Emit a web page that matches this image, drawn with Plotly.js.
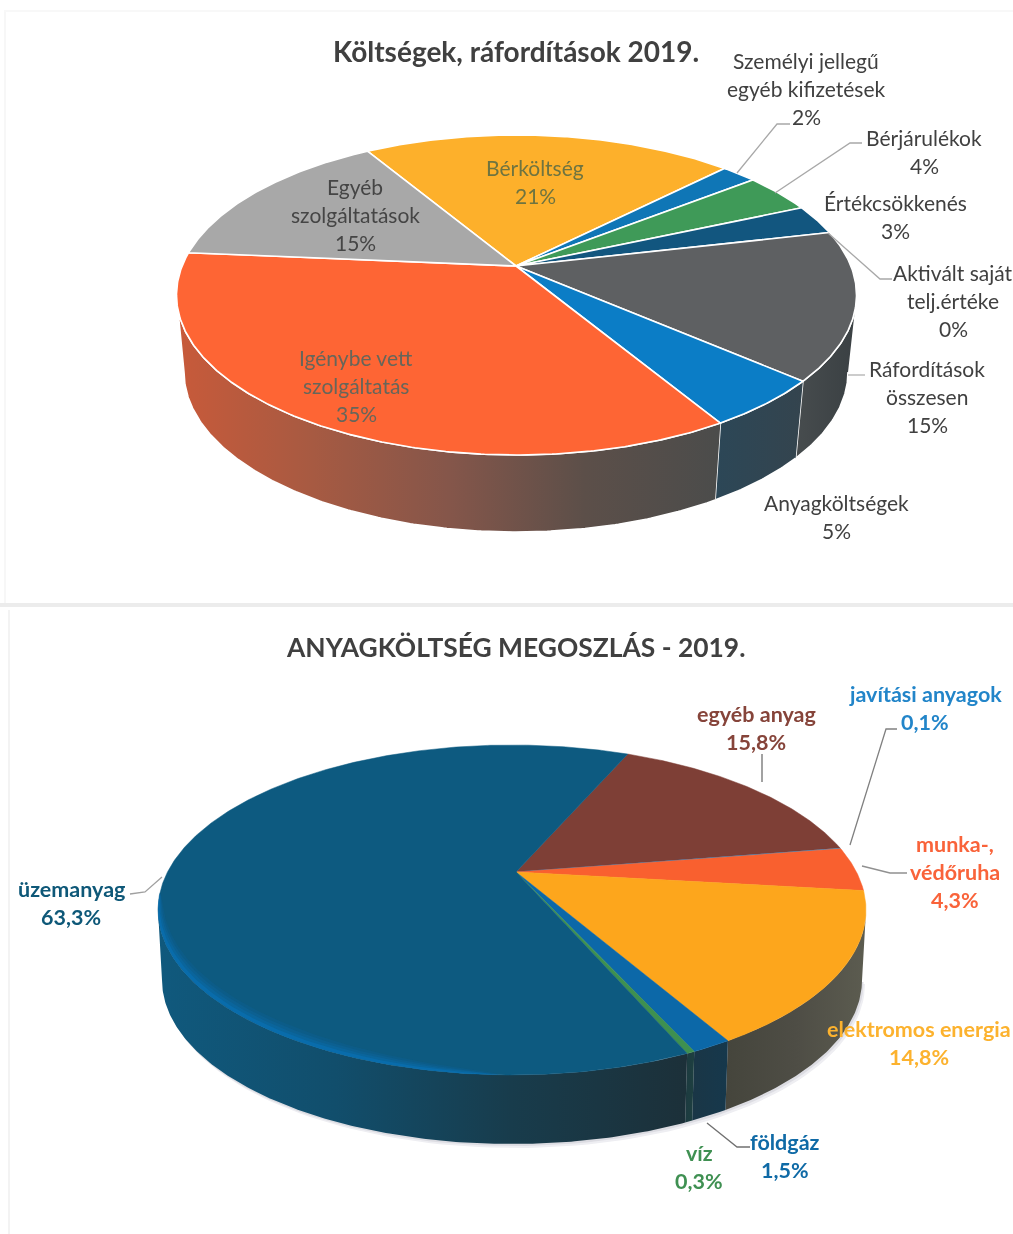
<!DOCTYPE html>
<html>
<head>
<meta charset="utf-8">
<script src="https://cdn.plot.ly/plotly-3.0.1.min.js"></script>
<style>html,body{margin:0;padding:0;background:#fff;overflow:hidden}#chart{filter:blur(0.4px)}</style>
</head>
<body>
<div id="chart" style="width:1013px;height:1234px"></div>
<script>
// ---- data ----
const costTitle = "Költségek, ráfordítások 2019.";
const costCategories = ["Bérköltség","Személyi jellegű\negyéb kifizetések","Bérjárulékok","Értékcsökkenés","Aktivált saját\ntelj.értéke","Ráfordítások\nösszesen","Anyagköltségek","Igénybe vett\nszolgáltatás","Egyéb\nszolgáltatások"];
const costValues = [21,2,4,3,0,15,5,35,15];
const costPercentLabels = ["21%","2%","4%","3%","0%","15%","5%","35%","15%"];
const costColors = ["#FDB02B","#0F76B6","#3F9A58","#12567F","#8A8A8A","#5E6062","#0B7DC6","#FE6534","#A8A8A8"];
const costLabelColors = ["#6F7440","#404040","#404040","#404040","#404040","#404040","#404040","#66665A","#454545"];

const materialTitle = "ANYAGKÖLTSÉG MEGOSZLÁS - 2019.";
const materialCategories = ["egyéb anyag","javítási anyagok","munka-,\nvédőruha","elektromos energia","földgáz","víz","üzemanyag"];
const materialValues = [15.8,0.1,4.3,14.8,1.5,0.3,63.3];
const materialPercentLabels = ["15,8%","0,1%","4,3%","14,8%","1,5%","0,3%","63,3%"];
const materialColors = ["#7E3F36","#1C7FC4","#F9602F","#FDA61C","#0C68A8","#3E9050","#0D5A80"];
const materialLabelColors = ["#86443A","#2285C9","#F9633A","#FCB22E","#0F6AA6","#3F9052","#0E5878"];

// ---- geometry and style (not data) ----
const costLabelPos = [[535,167],[806,60],[924,137],[895,202],[953,272],[927,368],[836,502],[356,357],[355,186]];
const materialLabelPos = [[756,714],[925,694],[955,844],[919,1029],[785,1142],[699,1153],[71,889]];

const costPie = {ax:516, ay:266, cx:516.5, rx:340, top:135, bottom:455, start:-31,
  low:{cx:516, cy:372, rx:332, ry:160}, sep:1.6};
const materialPie = {ax:516, ay:872, cx:512, rx:354, top:745, bottom:1075, start:24,
  low:{cx:512, cy:980, rx:350, ry:164}, sep:0};

const costWallScales = {
  5:["#474c4e","#3a4043"], 6:["#2c4757","#34444e"], 7:["#c85a3a","#a75a42","#85564a","#5c4f49","#4b4c4b"]
};
const materialWallScales = {
  3:["#45453c","#4e4d45","#5c5c50"], 4:["#1a3646","#16384c"], 5:["#1c3a40","#1e4040"], 6:["#10597d","#114e6c","#183c4c","#1c3039"]
};

function project(p, deg){
  const a = p.ay - p.top, b = p.bottom - p.ay;
  const k = (b-a)/(b+a), A = 2*a*b/(a+b), B = p.rx*Math.sqrt(1-k*k);
  const t = deg*Math.PI/180, u = Math.sin(t), v = -Math.cos(t);
  const d = 1-k*v;
  const X = B*u/d, Y = A*v/d;
  const y0 = (b-a)/2, ry = (a+b)/2;
  const phi = Math.atan2((Y-y0)/ry, X/p.rx);
  return {x:p.cx+X, y:p.ay+Y, phi};
}
function lowPoint(p, phi){
  return {x:p.low.cx+p.low.rx*Math.cos(phi), y:p.low.cy+p.low.ry*Math.sin(phi)};
}
function ellipsePoint(cx,cy,rx,ry,phi){return {x:cx+rx*Math.cos(phi), y:cy+ry*Math.sin(phi)};}

function gradient(colors){
  return {type:"horizontal", colorscale:colors.map((c,i)=>[colors.length>1?i/(colors.length-1):0,c])};
}

function pieTraces(p, names, values, colors, wallScales){
  const total = values.reduce((s,v)=>s+v,0);
  const walls = [], faces = [];
  let from = p.start;
  values.forEach((val,i)=>{
    const to = from + val/total*360;
    if(val>0){
      const fx=[p.ax], fy=[p.ay], tx=[], ty=[], bx=[], by=[];
      const n = Math.max(2, Math.ceil((to-from)/0.5));
      for(let j=0;j<=n;j++){
        const q = project(p, from+(to-from)*j/n);
        fx.push(q.x); fy.push(q.y);
        if(Math.sin(q.phi)>=-0.001){
          const l = lowPoint(p,q.phi);
          tx.push(q.x); ty.push(q.y); bx.push(l.x); by.push(l.y);
        }
      }
      fx.push(p.ax); fy.push(p.ay);
      const label = names[i].replace("\n"," ");
      if(tx.length>1 && wallScales[i]){
        walls.push({type:"scatter", mode:"lines", name:label+" (oldal)",
          x:tx.concat(bx.reverse()), y:ty.concat(by.reverse()),
          fill:"toself", fillgradient:gradient(wallScales[i]),
          line:{color:p.sep?"#ffffff":"rgba(0,0,0,0)", width:p.sep},
          hoverinfo:"skip", showlegend:false});
      }
      faces.push({type:"scatter", mode:"lines", name:label, x:fx, y:fy,
        fill:"toself", fillcolor:colors[i],
        line:{color:p.sep?"#ffffff":colors[i], width:p.sep||0.5},
        hoverinfo:"skip", showlegend:false});
    }
    from = to;
  });
  return {walls, faces};
}

// soft shadow and rim light of the lower pie
function shadowTrace(p, dx, dy, color){
  const x=[],y=[];
  for(let d=0;d<=180;d+=2){
    const q = ellipsePoint(p.low.cx+dx,p.low.cy+dy,p.low.rx,p.low.ry,d*Math.PI/180);
    x.push(q.x); y.push(q.y);
  }
  return {type:"scatter",mode:"lines",x,y,fill:"toself",fillcolor:color,line:{width:0,color:color},hoverinfo:"skip",showlegend:false};
}
function rimTrace(p, width, color){
  const y0 = (p.bottom+p.top)/2, ry=(p.bottom-p.top)/2;
  const x=[],y=[],ix=[],iy=[];
  const d0=92, d1=186;
  for(let d=d0;d<=d1;d+=1){
    const phi = d*Math.PI/180;
    const q = ellipsePoint(p.cx,y0,p.rx,ry,phi);
    const w = width*Math.pow(Math.sin((d-d0)/(d1-d0)*Math.PI),0.6);
    const r = ellipsePoint(p.cx,y0,p.rx-w*1.1,ry-w,phi);
    x.push(q.x); y.push(q.y); ix.push(r.x); iy.push(r.y);
  }
  return {type:"scatter",mode:"lines",x:x.concat(ix.reverse()),y:y.concat(iy.reverse()),fill:"toself",fillcolor:color,line:{width:0,color:color},hoverinfo:"skip",showlegend:false};
}

const costT = pieTraces(costPie, costCategories, costValues, costColors, costWallScales);
const matT = pieTraces(materialPie, materialCategories, materialValues, materialColors, materialWallScales);

const traces = [
  shadowTrace(materialPie,3,4,"#eeeef2"), shadowTrace(materialPie,1.5,2,"#dcdce2"),
  ...costT.walls, ...costT.faces,
  ...matT.walls, ...matT.faces,
  rimTrace(materialPie,13,"rgba(11,108,170,0.18)"), rimTrace(materialPie,10,"rgba(11,108,170,0.25)"),
  rimTrace(materialPie,7,"rgba(10,112,178,0.35)"), rimTrace(materialPie,4,"rgba(8,116,186,0.5)")
];

// ---- text ----
const annotations = [];
function addText(x,y,text,size,color,bold){
  annotations.push({x,y,xref:"x",yref:"y",text:bold?"<b>"+text+"</b>":text,showarrow:false,
    xanchor:"center",yanchor:"middle",font:{family:"Lato, Carlito, 'Open Sans', sans-serif",size,color}});
}
function addLabels(names,pcts,pos,cols,size,bold,gap){
  names.forEach((nm,i)=>{
    const lines = nm.split("\n").concat([pcts[i]]);
    lines.forEach((ln,j)=>addText(pos[i][0],pos[i][1]+j*gap,ln,size,cols[i],bold));
  });
}
addText(516,51,costTitle,28,"#404040",true);
addText(515,647,materialTitle,26.4,"#404040",true);
addLabels(costCategories,costPercentLabels,costLabelPos,costLabelColors,21,false,28.2);
addLabels(materialCategories,materialPercentLabels,materialLabelPos,materialLabelColors,21.5,true,28);

// ---- leader lines and scan marks ----
const leaders = [
  ["M737,173 L777,124 L790,124","#a8a8a8"],["M775,193 L850,143 L862,143","#a8a8a8"],
  ["M828,233 L880,279 L892,279","#a8a8a8"],["M848,375 L865,375","#b0b0b0"],
  ["M762,754 L762,782","#707070"],["M850,845 L886,729 L897,729","#808080"],
  ["M862,866 L890,873 L907,873","#909090"],["M707,1123 L737,1147 L750,1147","#707070"],
  ["M162,877 L145,892 L130,894","#a0a0a0"]
];
const shapes = leaders.map(l=>({type:"path",path:l[0],xref:"x",yref:"y",line:{color:l[1],width:1.3},layer:"above"}));
shapes.push(
  {type:"rect",xref:"x",yref:"y",x0:0,x1:1013,y0:603,y1:607,fillcolor:"#ececec",line:{width:0},layer:"below"},
  {type:"rect",xref:"x",yref:"y",x0:8,x1:10,y0:610,y1:1234,fillcolor:"#f3f3f3",line:{width:0},layer:"below"},
  {type:"rect",xref:"x",yref:"y",x0:4,x1:6,y0:10,y1:603,fillcolor:"#f7f7f7",line:{width:0},layer:"below"},
  {type:"rect",xref:"x",yref:"y",x0:4,x1:1013,y0:10,y1:12,fillcolor:"#f8f8f8",line:{width:0},layer:"below"}
);

Plotly.newPlot("chart", traces, {
  width:1013, height:1234, margin:{l:0,r:0,t:0,b:0,pad:0},
  paper_bgcolor:"#ffffff", plot_bgcolor:"#ffffff", showlegend:false,
  xaxis:{range:[0,1013],visible:false,fixedrange:true},
  yaxis:{range:[1234,0],visible:false,fixedrange:true},
  annotations, shapes
},{displayModeBar:false,staticPlot:true});
</script>
</body>
</html>
